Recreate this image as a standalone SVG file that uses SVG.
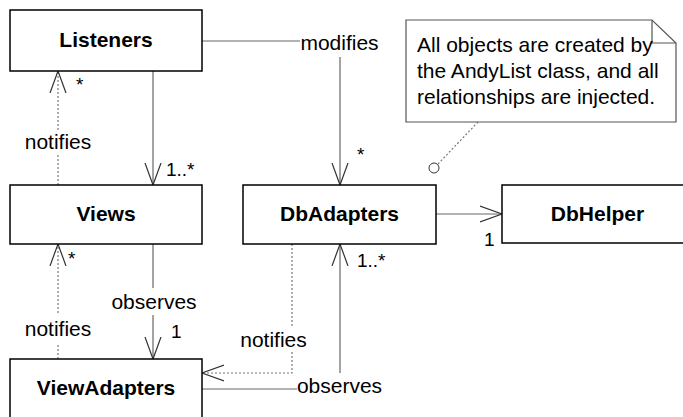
<svg xmlns="http://www.w3.org/2000/svg" width="683" height="417" viewBox="0 0 683 417">
  <style>
    .box { fill: #fff; stroke: #000; stroke-width: 1.5; }
    .name { font-family: "Liberation Sans", Arial, sans-serif; font-size: 21px; font-weight: bold; text-anchor: middle; fill: #000; }
    .lbl { font-family: "Liberation Sans", Arial, sans-serif; font-size: 21px; fill: #000; }
    .mult { font-family: "Liberation Sans", Arial, sans-serif; font-size: 19px; fill: #000; }
    .mid { text-anchor: middle; }
    .solid { fill: none; stroke: #666; stroke-width: 1.2; }
    .dot { fill: none; stroke: #777; stroke-width: 1.2; stroke-dasharray: 2 2; }
    .note { fill: #fff; stroke: #555; stroke-width: 1.2; }
  </style>
  <defs>
    <marker id="vee" viewBox="0 0 24 18" markerUnits="userSpaceOnUse" markerWidth="24" markerHeight="18" refX="22" refY="9" orient="auto">
      <path d="M0,1 L22,9 L0,17" fill="none" stroke="#333" stroke-width="1.2" stroke-dasharray="none"/>
    </marker>
  </defs>

  <!-- connectors -->
  <g id="connectors">
    <!-- Listeners -> Views -->
    <line class="solid" x1="153" y1="71" x2="153" y2="185" marker-end="url(#vee)"/>
    <text class="mult" x="166" y="176">1..*</text>
    <!-- Views notifies Listeners -->
    <line class="dot" x1="58" y1="130" x2="58" y2="71" marker-end="url(#vee)"/>
    <line class="dot" x1="58" y1="185" x2="58" y2="155"/>
    <text class="lbl mid" x="58" y="149">notifies</text>
    <text class="mult" x="76" y="91">*</text>

    <!-- Views -> ViewAdapters -->
    <line class="solid" x1="153" y1="244" x2="153" y2="288"/>
    <line class="solid" x1="153" y1="315" x2="153" y2="359" marker-end="url(#vee)"/>
    <text class="lbl mid" x="154" y="309">observes</text>
    <text class="mult" x="171" y="338">1</text>
    <!-- ViewAdapters notifies Views -->
    <line class="dot" x1="58" y1="313" x2="58" y2="244" marker-end="url(#vee)"/>
    <line class="dot" x1="58" y1="359" x2="58" y2="343"/>
    <text class="lbl mid" x="58" y="336">notifies</text>
    <text class="mult" x="68" y="265">*</text>

    <!-- Listeners modifies DbAdapters -->
    <polyline class="solid" points="202,41 300,41"/>
    <line class="solid" x1="340" y1="57" x2="340" y2="185" marker-end="url(#vee)"/>
    <text class="lbl mid" x="339.5" y="50">modifies</text>
    <text class="mult" x="357" y="161">*</text>

    <!-- DbAdapters -> DbHelper -->
    <line class="solid" x1="436" y1="214" x2="502" y2="214" marker-end="url(#vee)"/>
    <text class="mult" x="484" y="246">1</text>

    <!-- ViewAdapters observes DbAdapters -->
    <line class="solid" x1="202" y1="389" x2="297" y2="389"/>
    <line class="solid" x1="340" y1="373" x2="340" y2="244" marker-end="url(#vee)"/>
    <text class="lbl mid" x="339.5" y="393">observes</text>
    <text class="mult" x="357" y="267">1..*</text>

    <!-- DbAdapters notifies ViewAdapters -->
    <line class="dot" x1="292" y1="244" x2="292" y2="327"/>
    <polyline class="dot" points="292,352 292,373 202,373" marker-end="url(#vee)"/>
    <text class="lbl mid" x="273.5" y="347">notifies</text>

    <!-- note anchor -->
    <line class="dot" x1="478" y1="122" x2="437.5" y2="164.5"/>
    <circle cx="434" cy="168" r="5" fill="#fff" stroke="#333" stroke-width="1"/>
  </g>

  <!-- class nodes -->
  <g id="listeners">
    <rect class="box" x="10" y="10" width="192" height="61"/>
    <text class="name" x="106" y="47">Listeners</text>
  </g>
  <g id="views">
    <rect class="box" x="10" y="185" width="192" height="59"/>
    <text class="name" x="106" y="221">Views</text>
  </g>
  <g id="viewadapters">
    <rect class="box" x="10" y="359" width="192" height="70"/>
    <text class="name" x="106" y="395">ViewAdapters</text>
  </g>
  <g id="dbadapters">
    <rect class="box" x="243" y="185" width="193" height="59"/>
    <text class="name" x="339.5" y="221">DbAdapters</text>
  </g>
  <g id="dbhelper">
    <rect class="box" x="502" y="185" width="192" height="58"/>
    <text class="name" x="597.5" y="221">DbHelper</text>
  </g>

  <!-- note -->
  <g id="note">
    <path class="note" d="M406,20 L652,20 L676,43 L676,122 L406,122 Z"/>
    <path d="M652,20 L652,43 L676,43" fill="none" stroke="#555" stroke-width="1.2"/>
    <text class="lbl" x="417" y="52">All objects are created by</text>
    <text class="lbl" x="417" y="78">the AndyList class, and all</text>
    <text class="lbl" x="417" y="104">relationships are injected.</text>
  </g>
</svg>
